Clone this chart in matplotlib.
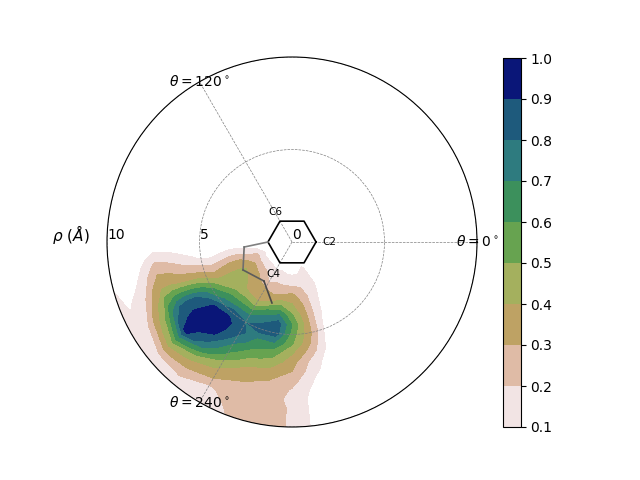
import numpy as np
import matplotlib
matplotlib.use('Agg')
import matplotlib.pyplot as plt

rho = [0, .5, 1, 1.5, 2, 2.5, 3, 3.5, 4, 4.5, 5, 5.5, 6, 6.5, 7, 7.5, 8, 8.5, 9, 9.5, 10]
theta_deg = [170, 180, 190, 200, 210, 220, 230, 240, 250, 260, 270, 280, 290, 300, 310]

d170 = [0] * 21
d180 = [0] * 21
d190 = [0, 0, 0, 0, .1, .13, .15, .14, .11, .08, .09, .12, .15, .19, .22, .24, .14, .07, .02, 0, .06]
d200 = [0, 0, 0, .08, .22, .25, .32, .33, .3, .27, .32, .35, .37, .39, .41, .4, .31, .17, .11, .08, .13]
d210 = [0, 0, 0, .07, .21, .36, .42, .43, .45, .47, .6, .72, .8, .83, .8, .67, .47, .34, .19, .14, .12]
d220 = [0, 0, .04, .08, .2, .32, .39, .43, .49, .63, .75, .93, .96, .98, .96, .93, .68, .47, .31, .17, .13]
d230 = [0, 0, .05, .08, .18, .28, .34, .37, .52, .66, .87, .93, .94, .9, .8, .68, .5, .36, .28, .19, .14]
d240 = [0, 0, .04, .07, .14, .2, .32, .35, .49, .68, .79, .84, .77, .66, .58, .45, .37, .3, .18, .14, .11]
d250 = [0, 0, .05, .08, .15, .22, .3, .42, .64, .76, .87, .7, .62, .53, .42, .35, .3, .27, .25, .23, .21]
d260 = [0, 0, .03, .07, .13, .22, .32, .5, .7, .85, .85, .7, .56, .47, .38, .31, .27, .25, .24, .24, .24]
d270 = [0, 0, .02, .07, .12, .22, .36, .42, .52, .6, .55, .51, .41, .34, .3, .24, .19, .175, .19, .19, .19]
d280 = [0, 0, .02, .07, .13, .2, .25, .3, .33, .35, .35, .31, .25, .16, .13, .09, .06, .04, .03, .03, .03]
d290 = [0, 0, .03, .11, .12, .15, .16, .14, .13, .11, .1, .07, .05, .03, .01, 0, 0, 0, 0, 0, 0]
d300 = [0, 0, 0, .08, .09, .09, .07, .05, .03, .02, .01, 0, 0, 0, 0, 0, 0, 0, 0, 0, 0]
d310 = [0] * 21

levels = [.1, .2, .3, .4, .5, .6, .7, .8, .9, 1.0]
band_colors = ['#f2e4e4', '#dfbba6', '#bea264', '#a4b05e', '#67a350', '#3c905c', '#2e7b7f', '#1e5a7c', '#0a1678']

hex_theta = [0, 60, 120, 180, 240, 300, 360]
hex_rho = [1.3, 1.3, 1.3, 1.3, 1.3, 1.3, 1.3]
sub_theta = [180, 186, 209.7, 234.3, 251.8]
sub_rho = [1.3, 2.6, 3.05, 2.6, 3.47]

fig = plt.figure(figsize=(6.4, 4.8), dpi=100)
ax = fig.add_axes([107 / 640, 53 / 480, 370 / 640, 370 / 480], projection='polar')

z = np.array([d170, d180, d190, d200, d210, d220, d230, d240, d250, d260, d270, d280, d290, d300, d310]).T
cf = ax.contourf(np.radians(theta_deg), rho, z, levels=levels, colors=band_colors)

# sugar ring on top of the hexagon
ax.plot(np.radians(hex_theta), hex_rho, color='k', lw=1.2)
for i in range(len(sub_rho) - 1):
    ax.plot(np.radians(sub_theta[i:i + 2]), sub_rho[i:i + 2], color=str(0.5 - 0.07 * i), lw=1.2)

ax.set_ylim(0, 10)
ax.set_yticks([0, 5, 10])
ax.set_yticklabels(['0', '5', '10'])
ax.set_rlabel_position(180)
ax.set_xticks(np.radians([0, 120, 240]))
ax.set_xticklabels([r'$\theta = 0^\circ$', r'$\theta = 120^\circ$', r'$\theta = 240^\circ$'])
ax.tick_params(axis='x', pad=-10)
for lab in ax.get_xticklabels():
    lab.set_ha('center')
    lab.set_va('center')
ax.grid(True, color='gray', ls='--', lw=0.5)

ax.text(np.radians(0), 2.0, 'C2', fontsize=7.5, ha='center', va='center')
ax.text(np.radians(120), 1.85, 'C6', fontsize=7.5, ha='center', va='center')
ax.text(np.radians(240), 1.97, 'C4', fontsize=7.5, ha='center', va='center')
fig.text(71 / 640, 1 - 235 / 480, r'$\rho\ (\AA)$', ha='center', va='center', fontsize=11)

cax = fig.add_axes([502.5 / 640, 53 / 480, 18 / 640, 369 / 480])
cb = fig.colorbar(cf, cax=cax)
cb.set_ticks(levels)

plt.savefig('out.png')
